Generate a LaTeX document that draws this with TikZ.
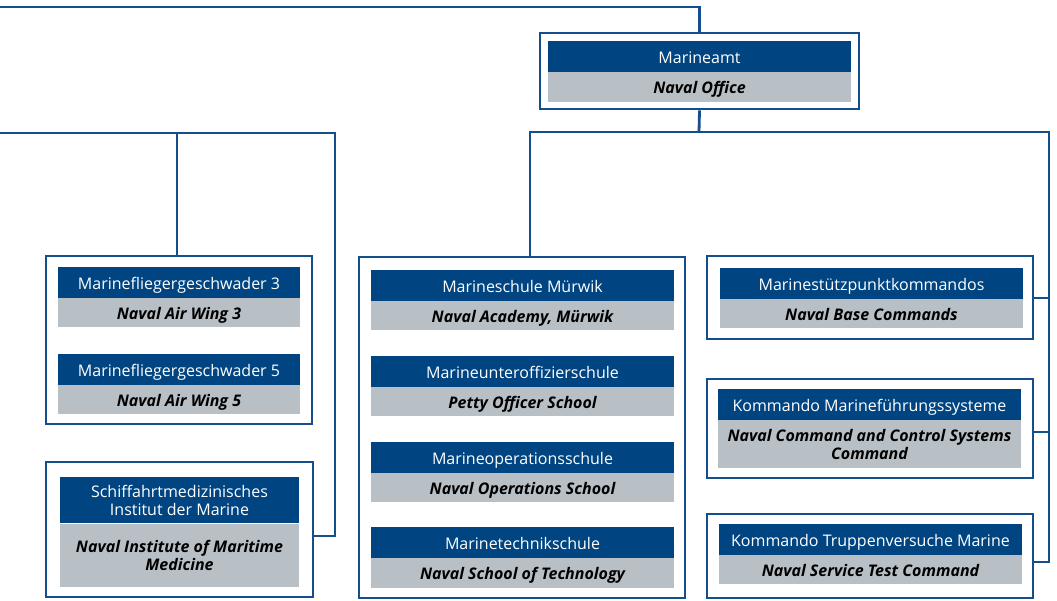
\documentclass[tikz,border=0pt]{standalone}
\usepackage{fontspec}
\setmainfont{Open Sans}
\definecolor{navy}{RGB}{0,69,129}
\definecolor{band}{RGB}{184,192,198}
\definecolor{linec}{RGB}{20,78,140}
\begin{document}
\begin{tikzpicture}[x=1pt,y=-1pt,
  conn/.style={draw=linec,line width=2.8pt},
  outer/.style={draw=linec,line width=2.8pt,fill=white,inner sep=0pt,rectangle},
  darkband/.style={fill=navy,text=white,inner sep=0pt,font=\fontsize{16}{18}\selectfont,align=center},
  greyband/.style={fill=band,text=black,inner sep=0pt,font=\fontsize{16}{18}\selectfont\bfseries\itshape,align=center},
  sl/.style={text height=13pt,text depth=0pt}]
\useasboundingbox (0,0) rectangle (1057,600);
\fill[white] (0,0) rectangle (1057,600);
\newcommand{\obox}[5]{\node[outer,minimum width=#4-#2,minimum height=#5-#3] (#1) at ({(#2+#4)/2},{(#3+#5)/2}) {};}
% outer boxes
\obox{amt}{540}{33}{859}{109}
\obox{flieg}{46}{256}{312}{424}
\obox{schiff}{46}{462}{313}{597}
\obox{schule}{359}{257}{685}{598}
\obox{stp}{707}{256}{1033}{339}
\obox{mfs}{707}{379}{1033}{478}
\obox{tv}{707}{514}{1033}{598}
% bands
\node[darkband,sl,minimum width=303,minimum height=31] (amtd) at (699.5,56.5) {Marineamt};
\node[greyband,sl,minimum width=303,minimum height=30] (amtg) at (699.5,87) {Naval Office};

\node[darkband,sl,minimum width=242,minimum height=31] (fl3d) at (179,282.5) {Marinefliegergeschwader 3};
\node[greyband,sl,minimum width=242,minimum height=29] (fl3g) at (179,312.5) {Naval Air Wing 3};
\node[darkband,sl,minimum width=242,minimum height=31] (fl5d) at (179,369.5) {Marinefliegergeschwader 5};
\node[greyband,sl,minimum width=242,minimum height=29] (fl5g) at (179,399.5) {Naval Air Wing 5};

\node[darkband,minimum width=239,minimum height=46] (schd) at (179.5,500) {Schiffahrtmedizinisches\\Institut der Marine};
\node[greyband,minimum width=239,minimum height=63] (schg) at (179.5,555) {Naval Institute of Maritime\\Medicine};

\node[darkband,sl,minimum width=303,minimum height=31] (s1d) at (522.5,285.5) {Marineschule Mürwik};
\node[greyband,sl,minimum width=303,minimum height=29] (s1g) at (522.5,315.5) {Naval Academy, Mürwik};
\node[darkband,sl,minimum width=303,minimum height=31] (s2d) at (522.5,371.5) {Marineunteroffizierschule};
\node[greyband,sl,minimum width=303,minimum height=29] (s2g) at (522.5,401.5) {Petty Officer School};
\node[darkband,sl,minimum width=303,minimum height=31] (s3d) at (522.5,457.5) {Marineoperationsschule};
\node[greyband,sl,minimum width=303,minimum height=29] (s3g) at (522.5,487.5) {Naval Operations School};
\node[darkband,sl,minimum width=303,minimum height=31] (s4d) at (522.5,542.5) {Marinetechnikschule};
\node[greyband,sl,minimum width=303,minimum height=30] (s4g) at (522.5,573) {Naval School of Technology};

\node[darkband,sl,minimum width=303,minimum height=31] (r1d) at (871.5,283.5) {Marinestützpunktkommandos};
\node[greyband,sl,minimum width=303,minimum height=29] (r1g) at (871.5,313.5) {Naval Base Commands};
\node[darkband,sl,minimum width=303,minimum height=31] (r2d) at (869.5,404.5) {Kommando Marineführungssysteme};
\node[greyband,minimum width=303,minimum height=48] (r2g) at (869.5,444) {\rule{0pt}{14pt}Naval Command and Control Systems\\Command};
\node[darkband,sl,minimum width=303,minimum height=31] (r3d) at (870.5,539.5) {Kommando Truppenversuche Marine};
\node[greyband,sl,minimum width=303,minimum height=29] (r3g) at (870.5,569.5) {Naval Service Test Command};

% connectors
\coordinate (topleft) at (0,7);
\coordinate (hub) at (699,132);
\coordinate (midtop) at (530,132);
\coordinate (leftend) at (0,133);
\coordinate (leftcorner) at (335,133);
\coordinate (flbranch) at (177,133);
\coordinate (schstub) at (335,536);
\coordinate (rcorner) at (1049,132);
\coordinate (rbottom) at (1049,562);
\coordinate (r1s) at (1049,298);
\coordinate (r2s) at (1049,432);

\draw[conn] (topleft) -| (amt.north);
\draw[conn] (amt.south) -- (hub);
\draw[conn] (schule.north -| midtop) -- (midtop) -- (rcorner) -- (rbottom) -- (tv.east |- rbottom);
\draw[conn] (r1s) -- (stp.east |- r1s);
\draw[conn] (r2s) -- (mfs.east |- r2s);
\draw[conn] (leftend) -- (leftcorner) -- (schstub) -- (schiff.east |- schstub);
\draw[conn] (flbranch) -- (flieg.north -| flbranch);
\end{tikzpicture}
\end{document}
